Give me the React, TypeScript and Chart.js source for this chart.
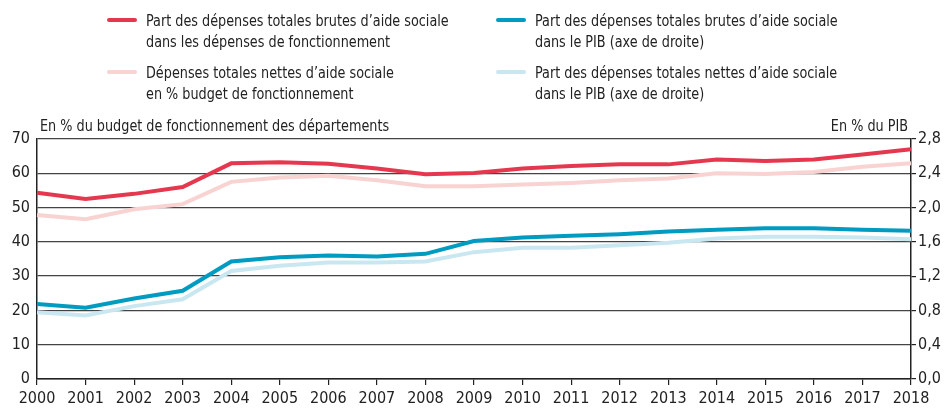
import React, { useEffect, useRef } from "react";
import { Chart, registerables } from "chart.js";
Chart.register(...registerables);

const years = ["2000","2001","2002","2003","2004","2005","2006","2007","2008","2009","2010","2011","2012","2013","2014","2015","2016","2017","2018"];
const brutesFonct = [54.3, 52.5, 54.0, 56.0, 62.9, 63.2, 62.8, 61.4, 59.7, 60.1, 61.4, 62.1, 62.6, 62.6, 64.0, 63.6, 64.0, 65.5, 67.0];
const nettesFonct = [47.8, 46.6, 49.5, 51.0, 57.5, 58.8, 59.3, 58.0, 56.2, 56.2, 56.7, 57.2, 58.0, 58.5, 60.0, 59.8, 60.4, 61.9, 62.9];
const brutesPIB = [0.876, 0.832, 0.94, 1.03, 1.37, 1.42, 1.44, 1.43, 1.46, 1.61, 1.65, 1.67, 1.69, 1.72, 1.74, 1.76, 1.76, 1.74, 1.73];
const nettesPIB = [0.78, 0.74, 0.85, 0.93, 1.26, 1.32, 1.36, 1.36, 1.37, 1.48, 1.53, 1.53, 1.56, 1.59, 1.64, 1.66, 1.66, 1.65, 1.63];
const leftTickValues = [0, 10, 20, 30, 40, 50, 60, 70];
const rightTickValues = [0, 0.4, 0.8, 1.2, 1.6, 2.0, 2.4, 2.8];

const legendItems = [
  { label: ["Part des dépenses totales brutes d’aide sociale", "dans les dépenses de fonctionnement"], color: "#E5384F", x: 107, y: 10 },
  { label: ["Dépenses totales nettes d’aide sociale", "en % budget de fonctionnement"], color: "#F8D3D1", x: 107, y: 62 },
  { label: ["Part des dépenses totales brutes d’aide sociale", "dans le PIB (axe de droite)"], color: "#009BC0", x: 496, y: 10 },
  { label: ["Part des dépenses totales nettes d’aide sociale", "dans le PIB (axe de droite)"], color: "#C9E7F1", x: 496, y: 62 },
];

const leftTitle = "En % du budget de fonctionnement des départements";
const rightTitle = "En % du PIB";

const FONT = '"DejaVu Sans Condensed", "Roboto", sans-serif';
const TEXT = "#222";
const SQUEEZE = 0.89;

export default function App() {
  const ref = useRef<HTMLCanvasElement>(null);
  useEffect(() => {
    document.body.style.margin = "0";
    const titles = {
      id: "axisTitles",
      afterDraw(chart: any) {
        const { ctx, chartArea } = chart;
        ctx.save();
        ctx.fillStyle = TEXT;
        ctx.font = `16px ${FONT}`;
        ctx.textBaseline = "middle";
        ctx.save();
        ctx.translate(chartArea.left + 3, 127);
        ctx.scale(SQUEEZE, 1);
        ctx.textAlign = "left";
        ctx.fillText(leftTitle, 0, 0);
        ctx.restore();
        ctx.save();
        ctx.translate(chartArea.right - 3, 127);
        ctx.scale(SQUEEZE, 1);
        ctx.textAlign = "right";
        ctx.fillText(rightTitle, 0, 0);
        ctx.restore();
        ctx.restore();
      },
    };
    const chart = new Chart(ref.current!, {
      type: "line",
      data: {
        labels: years,
        datasets: [
          { label: "brutesFonct", data: brutesFonct, borderColor: "#E5384F", yAxisID: "y", borderWidth: 4, pointRadius: 0, tension: 0 },
          { label: "nettesFonct", data: nettesFonct, borderColor: "#F8D3D1", yAxisID: "y", borderWidth: 4, pointRadius: 0, tension: 0 },
          { label: "brutesPIB", data: brutesPIB, borderColor: "#009BC0", yAxisID: "y1", borderWidth: 4, pointRadius: 0, tension: 0 },
          { label: "nettesPIB", data: nettesPIB, borderColor: "#C9E7F1", yAxisID: "y1", borderWidth: 4, pointRadius: 0, tension: 0 },
        ],
      },
      options: {
        animation: false,
        responsive: false,
        layout: { padding: { top: 139, left: 0, right: 0, bottom: 0 } },
        plugins: { legend: { display: false }, tooltip: { enabled: false } },
        scales: {
          x: {
            grid: { drawOnChartArea: false, color: "#222", tickLength: 6, lineWidth: 1.2 },
            border: { color: "#222", width: 1.5 },
            ticks: { color: TEXT, font: { family: FONT, size: 16 }, padding: 4, maxRotation: 0, autoSkip: false },
            afterFit(s: any) { s.height = 32; },
          },
          y: {
            position: "left",
            min: 0,
            max: 70,
            afterBuildTicks(s: any) { s.ticks = leftTickValues.map((v) => ({ value: v })); },
            grid: { color: "#444", lineWidth: 1.3, drawTicks: false },
            border: { color: "#222", width: 1.5 },
            ticks: { color: TEXT, font: { family: FONT, size: 16 }, padding: 7 },
            afterFit(s: any) { s.width = 37; },
          },
          y1: {
            position: "right",
            min: 0,
            max: 2.8,
            afterBuildTicks(s: any) { s.ticks = rightTickValues.map((v) => ({ value: v })); },
            grid: { drawOnChartArea: false, color: "#222", tickLength: 5, lineWidth: 1.2 },
            border: { color: "#222", width: 1.5 },
            ticks: {
              color: TEXT,
              font: { family: FONT, size: 16 },
              padding: 2,
              callback: (v: any) => Number(v).toFixed(1).replace(".", ","),
            },
            afterFit(s: any) { s.width = 35; },
          },
        },
      },
      plugins: [titles],
    });
    return () => chart.destroy();
  }, []);

  return (
    <div style={{ position: "relative", width: 946, height: 411, fontFamily: FONT, color: TEXT }}>
      <canvas ref={ref} width={946} height={411} style={{ position: "absolute", left: 0, top: 0 }} />
      {legendItems.map((it, i) => (
        <div key={i} style={{ position: "absolute", left: it.x, top: it.y, display: "flex", alignItems: "flex-start" }}>
          <div style={{ width: 30, height: 4, background: it.color, borderRadius: 2, marginTop: 8, marginRight: 9, flexShrink: 0 }} />
          <div style={{ fontSize: 16, lineHeight: "21px", transform: `scaleX(${SQUEEZE})`, transformOrigin: "left top", whiteSpace: "nowrap" }}>
            {it.label.map((l, j) => (
              <div key={j}>{l}</div>
            ))}
          </div>
        </div>
      ))}
    </div>
  );
}
